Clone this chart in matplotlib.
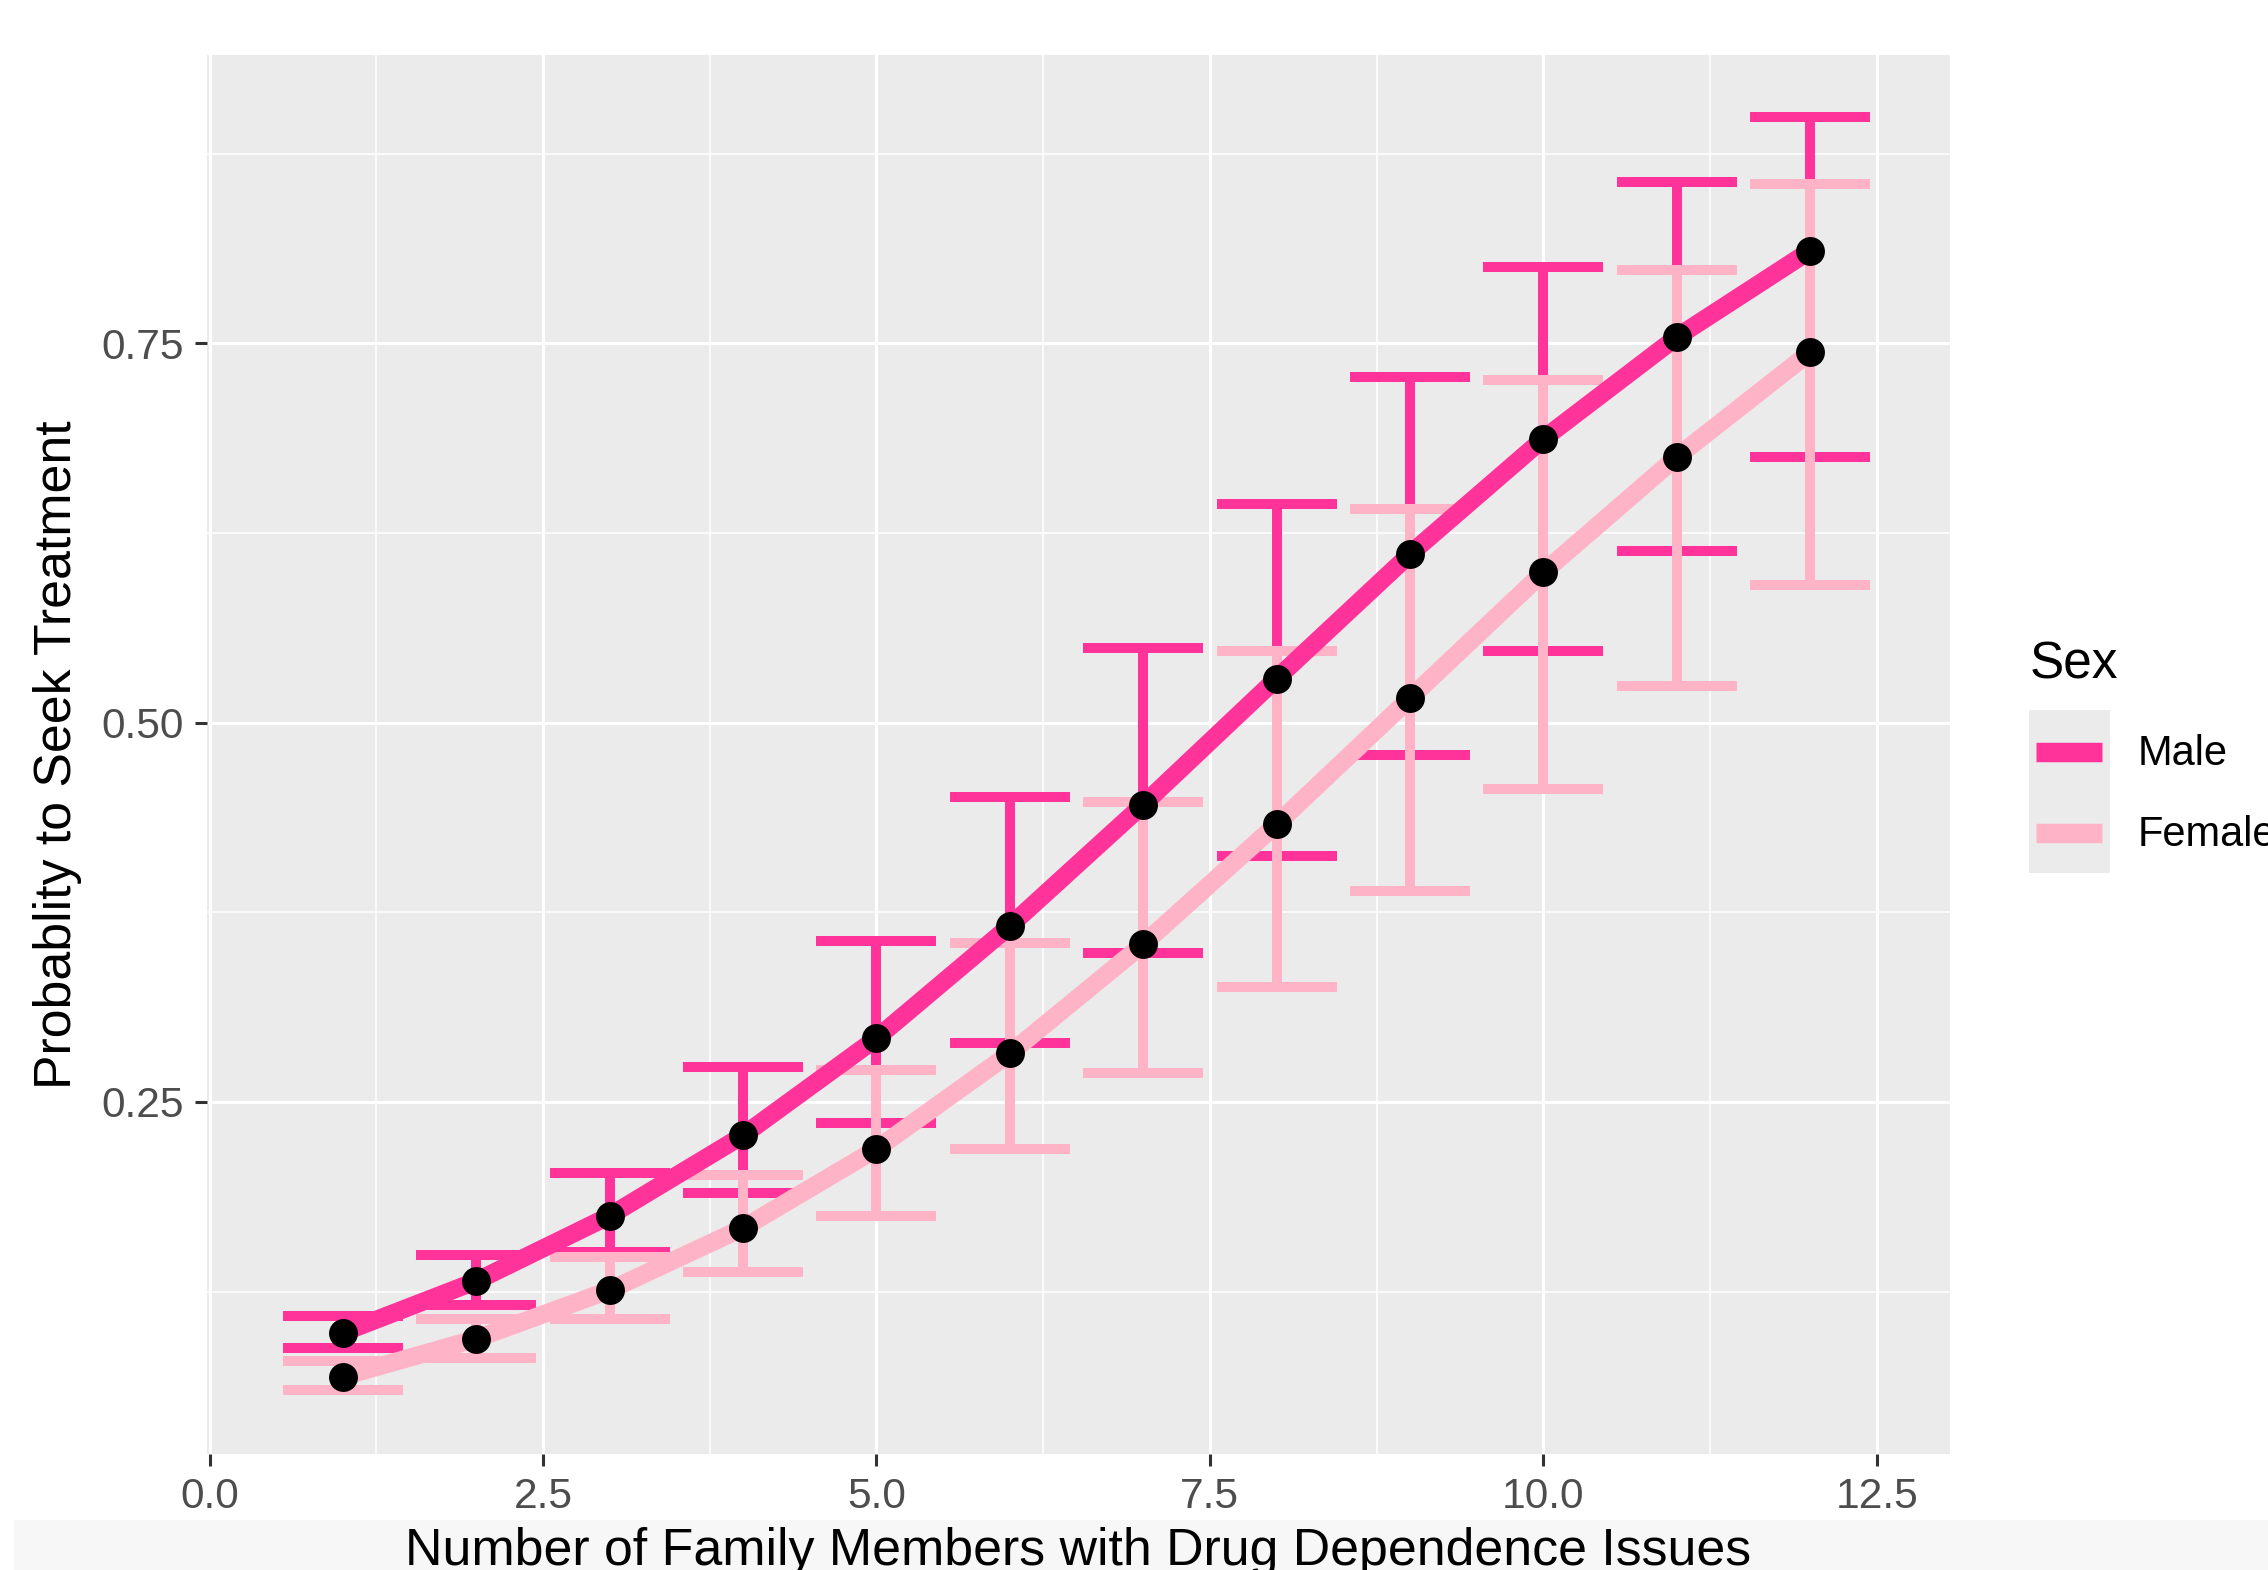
import matplotlib
matplotlib.use("Agg")
import matplotlib.pyplot as plt
from matplotlib.patches import Rectangle
from matplotlib.lines import Line2D
import numpy as np

# --- data ---
family_n = [1, 2, 3, 4, 5, 6, 7, 8, 9, 10, 11, 12]

male_est = [0.098, 0.132, 0.175, 0.228, 0.292, 0.366, 0.446, 0.529, 0.611, 0.687, 0.754, 0.811]
male_lo = [0.088, 0.116, 0.151, 0.190, 0.236, 0.289, 0.348, 0.412, 0.479, 0.547, 0.613, 0.675]
male_hi = [0.109, 0.149, 0.203, 0.273, 0.356, 0.451, 0.549, 0.644, 0.728, 0.800, 0.856, 0.899]

female_est = [0.069, 0.094, 0.126, 0.167, 0.219, 0.282, 0.354, 0.433, 0.516, 0.599, 0.675, 0.744]
female_lo = [0.060, 0.081, 0.107, 0.138, 0.175, 0.219, 0.269, 0.326, 0.389, 0.456, 0.524, 0.591]
female_hi = [0.079, 0.107, 0.148, 0.202, 0.271, 0.355, 0.448, 0.547, 0.641, 0.726, 0.798, 0.855]

x_ticks = [0.0, 2.5, 5.0, 7.5, 10.0, 12.5]
y_ticks = [0.25, 0.50, 0.75]

MALE_COL = '#FF3399'
FEMALE_COL = '#FFB3C6'
CAP_HALF = 0.45

plt.rcParams['font.family'] = ['Liberation Sans', 'DejaVu Sans']

W, H, DPI = 2268, 1570, 200
fig = plt.figure(figsize=(W / DPI, H / DPI), dpi=DPI)
fig.patch.set_facecolor('white')

# light band behind the x title (screenshot artefact)
fig.add_artist(Rectangle((14 / W, 0), 1, 50 / H, transform=fig.transFigure,
                         facecolor='#F7F7F7', edgecolor='none', zorder=0))

ax = fig.add_axes([207 / W, 1 - 1454 / H, (1950 - 207) / W, (1454 - 55) / H])
ax.set_facecolor('#EBEBEB')
for s in ax.spines.values():
    s.set_visible(False)

ax.set_xlim(-0.02, 13.05)
ax.set_ylim(0.018, 0.94)

# grid
ax.set_xticks(x_ticks)
ax.set_yticks(y_ticks)
ax.set_xticks([1.25, 3.75, 6.25, 8.75, 11.25], minor=True)
ax.set_yticks([0.125, 0.375, 0.625, 0.875], minor=True)
ax.grid(which='major', color='white', linewidth=1.1)
ax.grid(which='minor', color='white', linewidth=0.55)
ax.set_axisbelow(True)
ax.tick_params(which='minor', length=0)
ax.tick_params(which='major', length=4.3, width=1.1, color='#333333',
               labelcolor='#4D4D4D', labelsize=15.3, pad=4)
ax.set_xticklabels(['0.0', '2.5', '5.0', '7.5', '10.0', '12.5'])
ax.set_yticklabels(['0.25', '0.50', '0.75'])

x = np.array(family_n)

# error bars: male first, female drawn on top
for est, lo, hi, col in [(male_est, male_lo, male_hi, MALE_COL),
                         (female_est, female_lo, female_hi, FEMALE_COL)]:
    ax.vlines(x, lo, hi, color=col, linewidth=3.6, zorder=2)
    ax.hlines(lo, x - CAP_HALF, x + CAP_HALF, color=col, linewidth=3.6, zorder=2)
    ax.hlines(hi, x - CAP_HALF, x + CAP_HALF, color=col, linewidth=3.6, zorder=2)

ax.plot(x, male_est, color=MALE_COL, linewidth=6.5, solid_joinstyle='round',
        solid_capstyle='butt', zorder=3)
ax.plot(x, female_est, color=FEMALE_COL, linewidth=6.5, solid_joinstyle='round',
        solid_capstyle='butt', zorder=3)

ax.plot(x, male_est, 'o', color='black', markersize=9.4, zorder=4)
ax.plot(x, female_est, 'o', color='black', markersize=9.4, zorder=4)

# axis titles
fig.text(1078 / W, 1 - 1565 / H, 'Number of Family Members with Drug Dependence Issues',
         ha='center', va='baseline', fontsize=18.7, color='black')
fig.text(58 / W, 1 - 755 / H, 'Probablity to Seek Treatment', rotation=90,
         ha='center', va='center', fontsize=18.7, color='black')

# legend (drawn by hand to mimic the ggplot guide)
fig.text(2030 / W, 1 - 665 / H, 'Sex', ha='left', va='center', fontsize=18.5)
fig.add_artist(Rectangle((2029 / W, 1 - 873 / H), 81 / W, 163 / H,
                         transform=fig.transFigure, facecolor='#EBEBEB',
                         edgecolor='none'))
for yk, col, lab in [(752, MALE_COL, 'Male'), (833, FEMALE_COL, 'Female')]:
    fig.add_artist(Line2D([2036 / W, 2102 / W], [1 - yk / H, 1 - yk / H],
                          transform=fig.transFigure, color=col, linewidth=7,
                          solid_capstyle='butt'))
    fig.text(2138 / W, 1 - (yk + 2) / H, lab, ha='left', va='center', fontsize=15)

fig.savefig('out.png', dpi=DPI)
